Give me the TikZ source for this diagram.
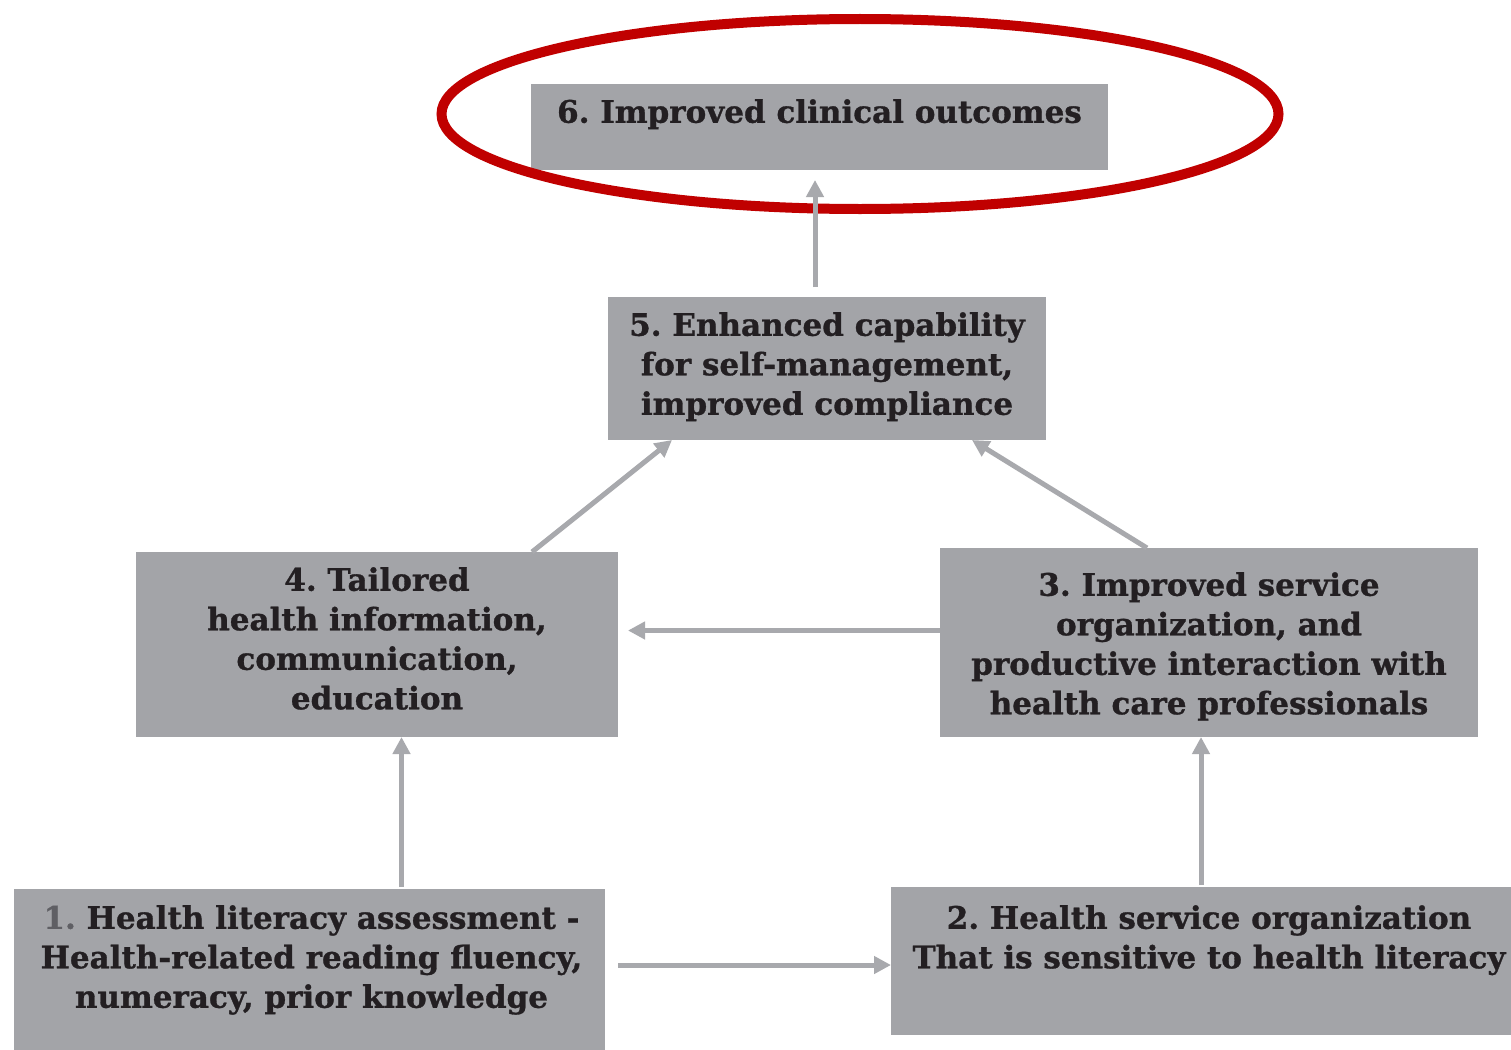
\documentclass[tikz,border=0pt]{standalone}
\usepackage{fontspec}
\setmainfont[BoldFeatures={FakeBold=1}]{DejaVu Serif}
\usetikzlibrary{arrows.meta,positioning,shapes.geometric}
\definecolor{boxgray}{RGB}{163,164,168}
\definecolor{arrowgray}{RGB}{168,169,173}
\definecolor{textdark}{RGB}{35,31,34}
\definecolor{numgray}{RGB}{95,95,100}
\definecolor{ringred}{RGB}{192,0,0}
\tikzset{
  gbox/.style={fill=boxgray,inner sep=0pt,outer sep=0pt,anchor=north west},
  btext/.style={font=\bfseries\fontsize{31}{39.5}\selectfont,text=textdark,align=center,anchor=north,inner sep=0pt},
  garrow/.style={draw=arrowgray,line width=5pt,-{Triangle[length=17pt,width=17pt]}}
}
\frenchspacing
\begin{document}
\begin{tikzpicture}[x=1pt,y=-1pt]
\useasboundingbox[fill=white] (0,0) rectangle (1511,1049);
% boxes
\node[gbox,minimum width=577pt,minimum height=86pt] (b6) at (531,84) {};
\node[gbox,minimum width=438pt,minimum height=143pt] (b5) at (608,297) {};
\node[gbox,minimum width=482pt,minimum height=185pt] (b4) at (136,552) {};
\node[gbox,minimum width=538pt,minimum height=189pt] (b3) at (940,548) {};
\node[gbox,minimum width=591pt,minimum height=170pt] (b1) at (14,889) {};
\node[gbox,minimum width=630pt,minimum height=148pt] (b2) at (891,887) {};
% texts
\node[btext] (t6) at ([yshift=-15pt]b6.north) {6. Improved clinical outcomes};
\node[btext] (t5) at ([yshift=-15pt]b5.north) {5. Enhanced capability\\for self-management,\\improved compliance};
\node[btext] (t4) at ([yshift=-15pt]b4.north) {4. Tailored\\health information,\\communication,\\education};
\node[btext] (t3) at ([yshift=-24pt]b3.north) {3. Improved service\\organization, and\\productive interaction with\\health care professionals};
\node[btext] (t1) at ([xshift=2pt,yshift=-16pt]b1.north) {\textcolor{numgray}{1.} Health literacy assessment -\\Health-related reading fluency,\\numeracy, prior knowledge};
\node[btext] (t2) at ([xshift=3pt,yshift=-18pt]b2.north) {2. Health service organization\\That is sensitive to health literacy};
% highlight
\node[draw=ringred,line width=10pt,ellipse,minimum width=837pt,minimum height=190pt] (ring) at (860,114) {};
% connectors
\draw[garrow,shorten <=10pt,shorten >=10pt] ([xshift=-12pt]b5.north) -- ([xshift=-12pt]b5.north |- b6.south);
\draw[garrow] ([xshift=155pt]b4.north) -- ([xshift=-155pt]b5.south);
\draw[garrow] ([xshift=-62pt]b3.north) -- ([xshift=145pt]b5.south);
\draw[garrow,shorten >=10pt] ([yshift=12pt]b3.west) -- ([yshift=12pt]b3.west -| b4.east);
\draw[garrow,shorten <=2pt] ([xshift=92pt]b1.north) -- ([xshift=92pt]b1.north |- b4.south);
\draw[garrow,shorten <=2pt] ([xshift=-5pt]b2.north) -- ([xshift=-5pt]b2.north |- b3.south);
\draw[garrow,shorten <=13pt] ([yshift=9pt]b1.east) -- ([yshift=9pt]b1.east -| b2.west);
\end{tikzpicture}
\end{document}
